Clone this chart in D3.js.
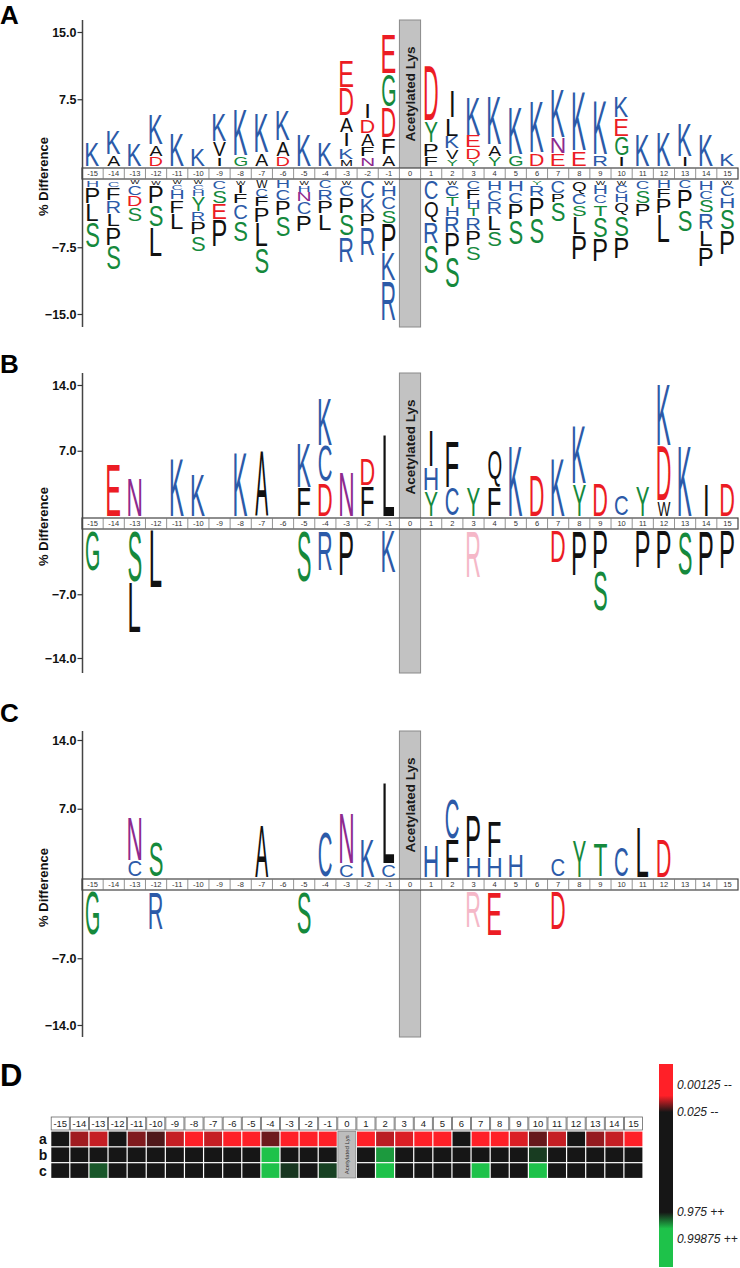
<!DOCTYPE html>
<html>
<head>
<meta charset="utf-8">
<script src="https://cdn.jsdelivr.net/npm/d3@7"></script>
<style>
body { margin: 0; background: #fff; }
svg { display: block; }
</style>
</head>
<body>
<svg id="fig" width="740" height="1268"></svg>
<script>
var positions = d3.range(-15, 16);

// letter stacks per position (-15..15), listed from the zero band outward, in % difference
var logoAUp = [
  "K2.7", "A1.3 K2.8", "K2.55", "D1.1 A1.3 K3.4", "K3.8", "K2.05", "I1.05 V1.75 K3.2",
  "G1.2 K5.15", "A1.5 K4.5", "D1.1 A1.8 K3.5", "K3.55", "K2.7",
  "M0.8 K1.35 I1.65 A1.8 D3.2 E3.05", "N1.05 F1.1 A1.5 D1.65 I1.7", "A1.3 F1.85 D3.5 G3.65 E4.5",
  "",
  "F1.1 P1.5 Y2.45 D6.2", "Y0.75 V1.2 K1.4 L2.05 I3.0", "Y0.75 D1.3 E1.4 K4.25", "Y1.1 A1.3 K5.45",
  "G1.3 K5.25", "D1.5 K5.8", "E1.4 N1.85 K5.5", "E1.7 K6.6", "R1.3 K6.0", "I1.2 G2.15 E2.05 K2.45",
  "K3.55", "K3.95", "I1.1 K3.8", "K3.55", "K1.4"
];
var logoADown = [
  "H0.75 P1.85 L2.05 S3.0", "C0.75 F1.5 R1.5 L1.5 P2.05 S2.8", "W0.45 C1.25 D1.3 S1.7",
  "W0.55 P2.05 S2.6 L3.35", "W0.45 C0.65 H1.1 F1.5 L1.85", "W0.45 C0.65 H0.75 Y1.7 R1.1 P1.5 S1.85",
  "C1.1 S1.5 E1.85 P3.0", "W0.55 I0.95 F1.1 C1.85 S2.45", "W0.95 C0.95 F1.1 P1.7 L2.8 S3.0",
  "H0.95 C1.3 P1.7 S2.45", "W0.55 H0.75 N1.1 C1.5 P1.85", "C0.95 R1.3 P1.5 L1.85",
  "W0.55 C1.3 P1.85 S2.6 R3.0", "C2.05 K1.7 P1.5 R3.2", "W0.55 H1.3 C1.5 S1.5 P3.2 K3.2 R4.5",
  "",
  "C2.25 Q2.45 R2.45 S3.35", "W0.55 C1.3 T1.1 H1.1 R1.85 P2.6 S3.55", "C1.1 F1.1 H0.95 T0.95 R1.5 P1.7 S1.7",
  "H1.1 C1.3 R1.5 L1.7 S1.85", "H1.3 C1.3 P1.85 S2.8", "Y0.55 R1.3 P2.25 S3.0", "C1.5 P0.95 S2.25",
  "Q1.5 C1.3 S1.3 L2.05 P2.8", "W0.55 H1.1 C1.0 T1.4 S2.45 P2.6", "W0.55 C0.95 H0.95 Q1.5 S2.45 P2.45",
  "C1.1 S1.5 P1.5", "H0.95 F1.1 P1.7 L3.2", "C0.95 P2.25 S2.6", "H1.1 C1.1 S1.5 R1.85 L1.85 P2.25",
  "W0.55 C1.3 H1.3 S2.45 P2.8"
];
var logoBUp = [
  "", "E5.55", "N4.15", "", "K6.1", "K4.5", "", "K6.8", "A7.0", "", "F3.1 K4.8", "D3.6 C3.9 K5.0",
  "N4.85", "F3.25 D2.85", "L8.75",
  "",
  "Y2.75 H2.5 I3.9", "C3.1 F5.0", "Y3.1", "F3.1 Q4.1", "K7.5", "D4.35", "K6.1", "Y3.45 K6.2",
  "D3.6", "C2.2", "Y3.25", "W1.65 D5.85 K6.55", "K7.5", "I3.45", "D3.6"
];
var logoBDown = [
  "G4.45", "", "S5.7 L5.5", "L6.3", "", "", "", "", "", "", "S5.7", "R4.45", "P5.0", "", "K4.6",
  "",
  "", "", "R5.15", "", "", "", "D3.55", "P5.0", "P4.25 S4.6", "", "P4.1", "P4.2", "S4.9", "P5.0", "P4.25"
];
var logoCUp = [
  "", "", "C1.75 N4.5", "S3.75", "", "", "", "", "A5.4", "", "", "C4.75", "C1.4 N5.05", "K3.9", "C1.35 L8.2",
  "",
  "H3.25", "F3.9 C4.15", "H2.05 P4.35", "H2.05 F3.65", "H2.4", "", "C1.9", "Y3.75", "T3.4", "C3.05",
  "L5.05", "D3.9", "", "", ""
];
var logoCDown = [
  "G4.65", "", "", "R4.0", "", "", "", "", "", "", "S4.5", "", "", "", "",
  "",
  "", "", "R3.85", "E4.65", "", "", "D4.0", "", "", "", "", "", "", "", ""
];
var fadedLetters = ["B 3 R", "C 3 R"];

var ticksA = [15, 7.5, -7.5, -15];
var ticksBC = [14, 7, -7, -14];

// heat map D: z-scores per position, rows a, b, c
var heatRows = ["a", "b", "c"];
var heatA = [0, 2.34, 2.44, 0, 2.25, 2.12, 2.44, 3.1, 2.44, 3.1, 3.1, 2.2, 3.1, 3.1, 3.1, null,
  3.1, 2.41, 2.5, 3.1, 3.1, 0, 3.1, 3.1, 2.5, 2.18, 2.44, 0, 2.31, 2.44, 3.1];
var heatB = [0, 0, 0, 0, 0, 0, 0, 0, 0, 0, 0, -3.1, 0, 0, 0, null,
  0, -2.45, 0, 0, 0, 0, 0, 0, 0, -2.1, 0, 0, 0, 0, 0];
var heatC = [0, 0, -2.2, 0, 0, 0, 0, 0, 0, 0, 0, -3.1, -2.08, 0, -2.12, null,
  0, -3.1, 0, 0, 0, 0, -3.1, 0, 0, -3.1, 0, 0, 0, 0, 0];
var legendLabels = ["0.00125 --", "0.025 --", "0.975 ++", "0.99875 ++"];
var legendZ = [3.02, 1.96, -1.96, -3.02]; // probit of the p-values

var FONT = "'Liberation Sans', Arial, sans-serif";
var svg = d3.select("#fig");

var aaColor = function(aa) {
  if ("KRHC".indexOf(aa) >= 0) return "#2c5aa8";
  if ("DE".indexOf(aa) >= 0) return "#ec1c24";
  if ("GSTY".indexOf(aa) >= 0) return "#15893c";
  if (aa == "N") return "#8e2a8e";
  return "#111";
};

var parseStack = function(s) {
  return s ? s.split(" ").map(function(t) { return { aa: t[0], v: +t.slice(1) }; }) : [];
};

// glyph ink metrics at 100px
var ctx = document.createElement("canvas").getContext("2d");
ctx.font = "100px 'Liberation Sans'";
var metrics = {};
var metric = function(ch) {
  if (!metrics[ch]) {
    var m = ctx.measureText(ch);
    metrics[ch] = { l: m.actualBoundingBoxLeft, r: m.actualBoundingBoxRight, a: m.actualBoundingBoxAscent, d: m.actualBoundingBoxDescent };
  }
  return metrics[ch];
};

var drawLetter = function(g, aa, xc, yTop, yBot, color) {
  var gap = Math.min(1.6, (yBot - yTop) * 0.15);
  var top = yTop + gap / 2, h = (yBot - yTop) - gap;
  if (h <= 0.5) return;
  var m = metric(aa);
  var inkW = m.l + m.r, inkH = m.a + m.d;
  var w = Math.min(Math.min(13, 7 + h * 0.6), inkW / 100 * 24);
  g.append("text")
    .attr("transform", "translate(" + (xc - w / 2) + "," + top + ") scale(" + (w / inkW) + "," + (h / inkH) + ")")
    .attr("x", m.l).attr("y", m.a)
    .attr("font-family", FONT).attr("font-size", "100px")
    .attr("fill", color)
    .text(aa);
};

var drawLogo = function(p) {
  var g = svg.append("g");
  var x = d3.scaleBand().domain(positions).range([82, 738]);
  var bw = x.bandwidth();
  var yUp = d3.scaleLinear().domain([0, p.max]).range([p.bandTop - 1.5, p.upTop]);
  var yDown = d3.scaleLinear().domain([0, -p.max]).range([p.bandBottom + 1.5, p.downBottom]);

  // acetylated lysine column
  g.append("rect").attr("x", x(0)).attr("y", p.top).attr("width", bw).attr("height", p.bottom - p.top)
    .attr("fill", "#c2c2c2").attr("stroke", "#8a8a8a").attr("stroke-width", 1);
  g.append("text")
    .attr("transform", "translate(" + (x(0) + bw / 2 + 5) + "," + (p.top + 74) + ") rotate(-90)")
    .attr("text-anchor", "middle").attr("font-family", FONT).attr("font-weight", "bold")
    .attr("font-size", "13.5px").attr("fill", "#1a1a1a").text("Acetylated Lys");

  // position band
  var band = g.append("g");
  band.append("rect").attr("x", 82).attr("y", p.bandTop).attr("width", 656).attr("height", p.bandBottom - p.bandTop)
    .attr("fill", "#fff").attr("stroke", "#444").attr("stroke-width", 1.2);
  band.selectAll("line.cell").data(positions.slice(1)).enter().append("line")
    .attr("x1", function(d) { return x(d); }).attr("x2", function(d) { return x(d); })
    .attr("y1", p.bandTop).attr("y2", p.bandBottom).attr("stroke", "#777").attr("stroke-width", 0.8);
  band.selectAll("text").data(positions).enter().append("text")
    .attr("x", function(d) { return x(d) + bw / 2; })
    .attr("y", (p.bandTop + p.bandBottom) / 2 + 2.6)
    .attr("text-anchor", "middle").attr("font-family", FONT).attr("font-size", "7.5px").attr("fill", "#333")
    .text(function(d) { return d; });

  // letters
  positions.forEach(function(pos, i) {
    var xc = x(pos) + bw / 2;
    var cum = 0;
    parseStack(p.up[i]).forEach(function(e) {
      drawLetter(g, e.aa, xc, yUp(cum + e.v), yUp(cum), aaColor(e.aa));
      cum += e.v;
    });
    cum = 0;
    parseStack(p.down[i]).forEach(function(e) {
      var faded = fadedLetters.indexOf(p.name + " " + pos + " " + e.aa) >= 0;
      drawLetter(g, e.aa, xc, yDown(-cum), yDown(-(cum + e.v)), faded ? "#f5b8c8" : aaColor(e.aa));
      cum += e.v;
    });
  });

  // y axis
  g.append("line").attr("x1", 82.5).attr("x2", 82.5).attr("y1", p.top).attr("y2", p.bottom)
    .attr("stroke", "#444").attr("stroke-width", 1.5);
  var fmt = d3.format(".1f");
  [[yUp, p.ticks.filter(function(t) { return t > 0; })], [yDown, p.ticks.filter(function(t) { return t < 0; })]].forEach(function(a) {
    var ax = g.append("g").attr("transform", "translate(82.5,0)")
      .call(d3.axisLeft(a[0]).tickValues(a[1]).tickFormat(fmt).tickSize(5).tickPadding(1));
    ax.select(".domain").remove();
    ax.selectAll("line").attr("stroke", "#333").attr("stroke-width", 1.2);
    ax.selectAll("text").attr("font-family", FONT).attr("font-weight", "bold").attr("font-size", "12.5px").attr("fill", "#111");
  });
  g.append("text")
    .attr("transform", "translate(48," + ((p.bandTop + p.bandBottom) / 2 + 3) + ") rotate(-90)")
    .attr("text-anchor", "middle").attr("font-family", FONT).attr("font-weight", "bold")
    .attr("font-size", "13px").attr("fill", "#111").text("% Difference");

  svg.append("text").attr("x", 0).attr("y", p.labelY).attr("font-family", FONT).attr("font-weight", "bold")
    .attr("font-size", "26px").attr("fill", "#000").text(p.name);
};

drawLogo({ name: "A", up: logoAUp, down: logoADown, ticks: ticksA, max: 15,
  top: 20, bottom: 327, bandTop: 168, bandBottom: 179, upTop: 32, downBottom: 314, labelY: 24 });
drawLogo({ name: "B", up: logoBUp, down: logoBDown, ticks: ticksBC, max: 14,
  top: 373, bottom: 673, bandTop: 518, bandBottom: 529, upTop: 385, downBottom: 658, labelY: 373 });
drawLogo({ name: "C", up: logoCUp, down: logoCDown, ticks: ticksBC, max: 14,
  top: 731, bottom: 1037, bandTop: 879, bandBottom: 890, upTop: 740, downBottom: 1025, labelY: 722 });

// ---- panel D ----
var heatColor = d3.scaleLinear().domain([-2.6, -1.96, 1.96, 2.6])
  .range(["#1ec24a", "#161616", "#161616", "#ff2028"]).clamp(true);
var gd = svg.append("g");
var xh = d3.scaleBand().domain(positions).range([50.7, 643]);
var hb = xh.bandwidth();
var yr = d3.scaleBand().domain(heatRows).range([1131, 1178.5]);
var rh = yr.bandwidth();

gd.selectAll("rect.head").data(positions).enter().append("rect")
  .attr("x", function(d) { return xh(d) + 0.5; }).attr("y", 1117).attr("width", hb - 1).attr("height", 13)
  .attr("fill", "#fff").attr("stroke", "#666").attr("stroke-width", 0.8);
gd.selectAll("text.head").data(positions).enter().append("text")
  .attr("x", function(d) { return xh(d) + hb / 2; }).attr("y", 1127)
  .attr("text-anchor", "middle").attr("font-family", FONT).attr("font-size", "9.5px").attr("fill", "#222")
  .text(function(d) { return d; });

[heatA, heatB, heatC].forEach(function(vals, r) {
  var row = heatRows[r];
  gd.selectAll("rect.r" + row).data(vals.map(function(v, i) { return { pos: positions[i], v: v }; })
      .filter(function(d) { return d.v !== null; }))
    .enter().append("rect")
    .attr("x", function(d) { return xh(d.pos) + 0.6; }).attr("y", yr(row) + 0.6)
    .attr("width", hb - 1.2).attr("height", rh - 1.2)
    .attr("fill", function(d) { return heatColor(d.v); });
  gd.append("text").attr("x", 43).attr("y", yr(row) + rh / 2 + 5)
    .attr("text-anchor", "middle").attr("font-family", FONT).attr("font-weight", "bold")
    .attr("font-size", "14px").attr("fill", "#111").text(row);
});
gd.append("rect").attr("x", xh(0) + 0.6).attr("y", yr("a") + 0.6).attr("width", hb - 1.2).attr("height", rh * 3 - 1.2)
  .attr("fill", "#bdbdbd").attr("stroke", "#888").attr("stroke-width", 0.8);
gd.append("text")
  .attr("transform", "translate(" + (xh(0) + hb / 2 + 2) + "," + (yr("b") + rh / 2) + ") rotate(-90)")
  .attr("text-anchor", "middle").attr("font-family", FONT).attr("font-size", "6px").attr("fill", "#333")
  .text("Acetylated Lys");

// colour legend
var yLeg = d3.scaleLinear().domain([3.84, -4.1]).range([1064, 1267]);
var grad = svg.append("defs").append("linearGradient").attr("id", "leg")
  .attr("x1", 0).attr("x2", 0).attr("y1", 0).attr("y2", 1);
[3.84].concat(heatColor.domain().slice().reverse(), [-4.1]).forEach(function(z) {
  grad.append("stop").attr("offset", (yLeg(z) - 1064) / 203).attr("stop-color", heatColor(z));
});
gd.append("rect").attr("x", 659).attr("y", 1064).attr("width", 14).attr("height", 203).attr("fill", "url(#leg)");
gd.selectAll("text.leg").data(legendLabels).enter().append("text")
  .attr("x", 677).attr("y", function(d, i) { return yLeg(legendZ[i]) + 4; })
  .attr("font-family", FONT).attr("font-style", "italic").attr("font-size", "12px").attr("fill", "#222")
  .text(function(d) { return d; });

svg.append("text").attr("x", 0).attr("y", 1086).attr("font-family", FONT).attr("font-weight", "bold")
  .attr("font-size", "31px").attr("fill", "#000").text("D");
</script>
</body>
</html>
